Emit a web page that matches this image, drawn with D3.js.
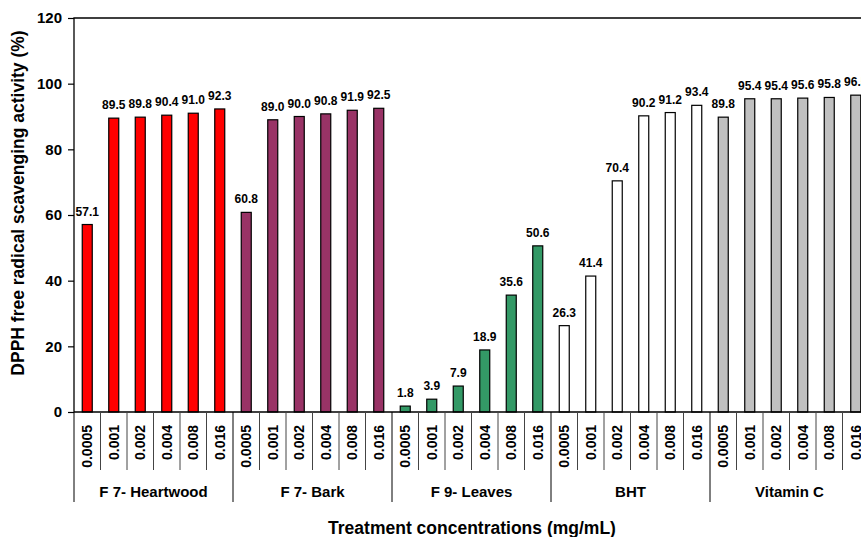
<!DOCTYPE html>
<html lang="en">
<head>
<meta charset="UTF-8">
<title>dpph-bars</title>
<script src="https://cdn.jsdelivr.net/npm/d3@7"></script>
<style>
    body { margin: 0; background: #fff; }
    svg { display: block; font-family: Arial, "Liberation Sans", sans-serif; font-weight: bold; }
</style>
</head>
<body>
<svg id="chart"></svg>
<script>
    // data
    var groups = ["F 7- Heartwood", "F 7- Bark", "F 9- Leaves", "BHT", "Vitamin C"];
    var concentrations = ["0.0005", "0.001", "0.002", "0.004", "0.008", "0.016"];
    var heartwood = [57.1, 89.5, 89.8, 90.4, 91.0, 92.3];
    var bark = [60.8, 89.0, 90.0, 90.8, 91.9, 92.5];
    var leaves = [1.8, 3.9, 7.9, 18.9, 35.6, 50.6];
    var bht = [26.3, 41.4, 70.4, 90.2, 91.2, 93.4];
    var vitaminC = [89.8, 95.4, 95.4, 95.6, 95.8, 96.5];
    var yTicks = [0, 20, 40, 60, 80, 100, 120];
    var groupColors = ["#ff0000", "#993366", "#339966", "#ffffff", "#c0c0c0"];

    var series = [heartwood, bark, leaves, bht, vitaminC];

    // flat list of bars
    var bars = [];
    series.forEach(function (vals, gi) {
        vals.forEach(function (v, ci) {
            bars.push({ group: gi, conc: concentrations[ci], value: v, idx: bars.length });
        });
    });

    var width = 861, height = 537;
    var plotLeft = 74, plotTop = 18, plotBottom = 412;
    var step = 26.5;

    var svg = d3.select("#chart").attr("width", width).attr("height", height);

    var x = d3.scaleBand()
        .domain(bars.map(function (d) { return d.idx; }))
        .range([plotLeft, plotLeft + step * bars.length])
        .padding(0);

    var y = d3.scaleLinear().domain([0, 120]).range([plotBottom, plotTop]);

    var barW = 10;

    // bars
    svg.append("g").selectAll("rect")
        .data(bars)
        .enter().append("rect")
        .attr("x", function (d) { return x(d.idx) + x.bandwidth() / 2 - barW / 2; })
        .attr("y", function (d) { return y(d.value); })
        .attr("width", barW)
        .attr("height", function (d) { return y(0) - y(d.value); })
        .attr("fill", function (d) { return groupColors[d.group]; })
        .attr("stroke", "#000")
        .attr("stroke-width", 1.2);

    // value labels
    svg.append("g").selectAll("text")
        .data(bars)
        .enter().append("text")
        .attr("x", function (d) { return x(d.idx) + x.bandwidth() / 2; })
        .attr("y", function (d) { return y(d.value) - 9; })
        .attr("text-anchor", "middle")
        .attr("font-size", "12px")
        .text(function (d) { return d.value.toFixed(1); });

    // frame: left axis, top line, bottom axis
    var plotRight = plotLeft + step * bars.length;
    svg.append("path")
        .attr("d", "M" + plotRight + "," + plotTop + "H" + plotLeft + "V" + plotBottom + "H" + plotRight)
        .attr("fill", "none")
        .attr("stroke", "#000")
        .attr("stroke-width", 1.3);

    // y axis ticks
    var yAxis = d3.axisLeft(y).tickValues(yTicks).tickSize(6).tickPadding(6);
    var gy = svg.append("g")
        .attr("transform", "translate(" + plotLeft + ",0)")
        .call(yAxis);
    gy.select(".domain").remove();
    gy.selectAll("line").attr("stroke", "#000").attr("stroke-width", 1.2);
    gy.selectAll("text")
        .attr("font-size", "15px")
        .attr("font-family", "Arial, 'Liberation Sans', sans-serif")
        .attr("font-weight", "bold")
        .attr("fill", "#000");

    // separators under the x axis
    var sep = svg.append("g");
    bars.forEach(function (d, i) {
        var xx = x(d.idx);
        var isGroupStart = (i % concentrations.length === 0);
        sep.append("line")
            .attr("x1", xx).attr("x2", xx)
            .attr("y1", plotBottom).attr("y2", isGroupStart ? 502 : 470)
            .attr("stroke", isGroupStart ? "#000" : "#444")
            .attr("stroke-width", 1);
    });

    // rotated concentration labels
    svg.append("g").selectAll("text")
        .data(bars)
        .enter().append("text")
        .attr("transform", function (d) {
            return "translate(" + (x(d.idx) + x.bandwidth() / 2) + ",425) rotate(-90)";
        })
        .attr("dy", "0.36em")
        .attr("text-anchor", "end")
        .attr("font-size", "14px")
        .text(function (d) { return d.conc; });

    // group labels
    svg.append("g").selectAll("text")
        .data(groups)
        .enter().append("text")
        .attr("x", function (d, i) {
            var a = x(i * concentrations.length);
            return a + step * concentrations.length / 2;
        })
        .attr("y", 497)
        .attr("text-anchor", "middle")
        .attr("font-size", "15px")
        .text(function (d) { return d; });

    // axis titles
    svg.append("text")
        .attr("x", 472)
        .attr("y", 534)
        .attr("text-anchor", "middle")
        .attr("font-size", "17.5px")
        .text("Treatment concentrations (mg/mL)");

    svg.append("text")
        .attr("transform", "translate(24,203) rotate(-90)")
        .attr("text-anchor", "middle")
        .attr("font-size", "17.5px")
        .text("DPPH free radical scavenging activity (%)");
</script>
</body>
</html>
